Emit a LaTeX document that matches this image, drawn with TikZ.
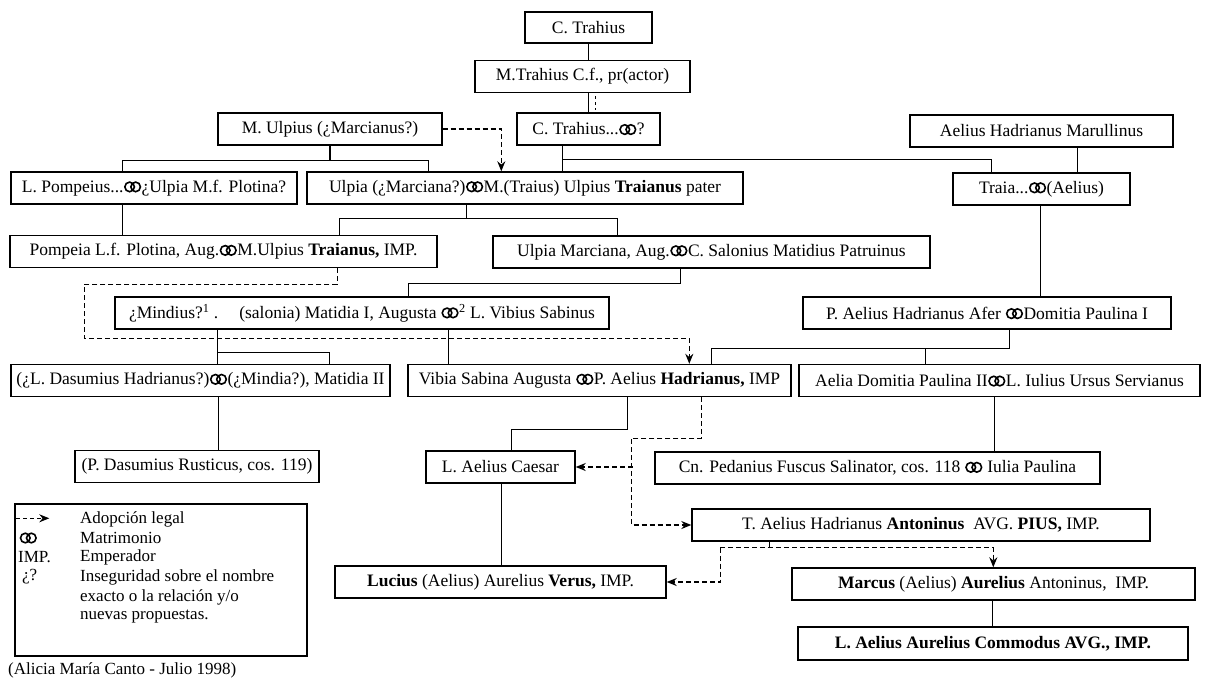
\documentclass[tikz,border=0pt]{standalone}
\usepackage{fontspec}
\setmainfont{Liberation Serif}
\usetikzlibrary{arrows.meta}
\newcommand{\mrg}{\hspace{0.5pt}\tikz[baseline=0pt,x=1pt,y=1pt]{\draw[line width=1.6pt] (5.3,5.4) circle[radius=4.8] (11.3,5.4) circle[radius=4.8];}\hspace{0.5pt}}
\begin{document}
\begin{tikzpicture}[x=1pt,y=-1pt,
  box/.style={draw, line width=1.4pt, inner sep=0pt, minimum height=32, font=\fontsize{17.5}{20}\selectfont},
  conn/.style={line width=1.2pt},
  adop/.style={line width=1.2pt, dash pattern=on 5pt off 3pt},
  tip/.style={-{Stealth[length=10pt,width=8pt]}},
  legtext/.style={anchor=west, inner sep=0pt, font=\fontsize{17}{20}\selectfont}]
\useasboundingbox (0,0) rectangle (1205,681);
\fill[white] (0,0) rectangle (1205,681);

% boxes
\node[box, minimum width=127, minimum height=31] (cT) at (588.5,27.5) {C. Trahius};
\node[box, minimum width=215] (mT) at (582.5,76.5) {M.Trahius C.f., pr(actor)};
\node[box, minimum width=224] (mU) at (330,129) {M. Ulpius (¿Marcianus?)};
\node[box, minimum width=143] (cT2) at (588.5,129) {C. Trahius...\mrg?};
\node[box, minimum width=263] (aHM) at (1041.5,131) {Aelius Hadrianus Marullinus};
\node[box, minimum width=286] (lP) at (154,188) {L. Pompeius...\mrg¿Ulpia M.f. Plotina?};
\node[box, minimum width=436] (ulp) at (525,188) {Ulpia (¿Marciana?)\mrg M.(Traius) Ulpius \textbf{Traianus} pater};
\node[box, minimum width=177] (tra) at (1041.5,189) {Traia...\mrg(Aelius)};
\node[box, minimum width=427] (pom) at (223.5,251.5) {Pompeia L.f. Plotina, Aug.\mrg M.Ulpius \textbf{Traianus,} IMP.};
\node[box, minimum width=437] (ulm) at (711.5,252) {Ulpia Marciana, Aug.\mrg C. Salonius Matidius Patruinus};
\node[box, minimum width=494] (mat) at (362,313) {¿Mindius?\textsuperscript{1} .\hspace{1.2em}(salonia) Matidia I, Augusta \mrg\textsuperscript{2} L. Vibius Sabinus};
\node[box, minimum width=368] (paf) at (987,313) {P. Aelius Hadrianus Afer \mrg Domitia Paulina I};
\node[box, minimum width=379] (das) at (200.5,380.5) {(¿L. Dasumius Hadrianus?)\mrg(¿Mindia?), Matidia II};
\node[box, minimum width=383] (vib) at (599.5,380.5) {Vibia Sabina Augusta \mrg P. Aelius \textbf{Hadrianus,} IMP};
\node[box, minimum width=401] (aed) at (999.5,380.5) {Aelia Domitia Paulina II\mrg L. Iulius Ursus Servianus};
\node[box, minimum width=244] (pda) at (197,466.5) {(P. Dasumius Rusticus, cos. 119)};
\node[box, minimum width=149] (lac) at (500.5,467) {L. Aelius Caesar};
\node[box, minimum width=445] (cnp) at (877.5,468) {Cn. Pedanius Fuscus Salinator, cos. 118 \mrg{} Iulia Paulina};
\node[box, minimum width=458] (tae) at (921,525) {T. Aelius Hadrianus \textbf{Antoninus}\ \ AVG. \textbf{PIUS,} IMP.};
\node[box, minimum width=331] (luc) at (500.5,582) {\textbf{Lucius} (Aelius) Aurelius \textbf{Verus,} IMP.};
\node[box, minimum width=403] (mar) at (993.5,584) {\textbf{Marcus} (Aelius) \textbf{Aurelius} Antoninus,\ \ IMP.};
\node[box, minimum width=390, minimum height=33] (com) at (993,643.5) {\textbf{L. Aelius Aurelius Commodus AVG., IMP.}};

% solid descent lines
\draw[conn] (cT.south) -- (mT.north -| cT.south);
\draw[conn] (mT.south -| cT2.north) -- (cT2.north);
\draw[adop, dash pattern=on 3pt off 3pt] ([xshift=7]mT.south -| cT2.north) ++(0,3) -- ++(0,14);
\draw[conn] (mU.south) -- ++(0,15) coordinate (jU);
\draw[conn] ([xshift=112]lP.north west) |- (jU) -| ([xshift=122]ulp.north west);
\draw[conn] ([xshift=46]cT2.south west) -- ([xshift=256]ulp.north west);
\draw[conn] ([xshift=46]cT2.south west) ++(0,14) -| ([xshift=39]tra.north west);
\draw[conn] ([xshift=168]aHM.south west) -- ([xshift=125]tra.north west);
\draw[conn] ([xshift=112]lP.south west) -- ([xshift=113]pom.north west);
\draw[conn] ([xshift=160]ulp.south west) -- ++(0,14) coordinate (jA);
\draw[conn] ([xshift=330]pom.north west) |- (jA) -| ([xshift=125]ulm.north west);
\draw[conn] ([xshift=188]ulm.south west) -- ++(0,15) -| ([xshift=294]mat.north west);
\draw[conn] ([xshift=88]tra.south west) -- ([xshift=238]paf.north west);
\draw[conn] ([xshift=103]mat.south west) -- ([xshift=207]das.north west);
\draw[conn] ([xshift=103]mat.south west) ++(0,23) -| ([xshift=319]das.north west);
\draw[conn] ([xshift=334]mat.south west) -- ([xshift=41]vib.north west);
\draw[conn] ([xshift=207]paf.south west) -- ++(0,19) coordinate (jP);
\draw[conn] (jP) -| ([xshift=304]vib.north west);
\draw[conn] ([xshift=127]aed.north west) -- ++(0,-16);
\draw[conn] ([xshift=208]das.south west) -- ([xshift=144]pda.north west);
\draw[conn] ([xshift=220]vib.south west) -- ++(0,32) -| ([xshift=86]lac.north west);
\draw[conn] ([xshift=196]aed.south west) -- ([xshift=340]cnp.north west);
\draw[conn] ([xshift=76]lac.south west) -- ([xshift=167]luc.north west);
\draw[conn] ([xshift=201]mar.south west) -- ([xshift=195]com.north west);
\draw[conn] ([xshift=78]tae.south west) -- ++(0,6);

% adoptions
\draw[adop,tip] (mU.east) -| ([xshift=195]ulp.north west);
\draw[adop,tip] ([xshift=328]pom.south west) -- ++(0,16) -- ++(-253,0) -- ++(0,54) -| ([xshift=282]vib.north west);
\draw[adop,tip] ([xshift=294]vib.south west) -- ++(0,41) -- ++(-70,0) |- (tae.west);
\draw[adop,tip] ([xshift=57]lac.east) -- (lac.east);
\draw[adop,tip] ([xshift=29]tae.south west) ++(0,6) -| ([xshift=202]mar.north west);
\draw[adop,tip] ([xshift=29]tae.south west) ++(0,6) |- (luc.east);

% legend
\node[draw, line width=1.4pt, minimum width=292, minimum height=152, inner sep=0pt] (leg) at (161,580) {};
\draw[adop, dash pattern=on 4pt off 3pt, tip] ([xshift=2]leg.north west) ++(0,15) -- ++(33,0);
\node[legtext] (s2) at (19,538) {\mrg};
\node[legtext] (s3) at (18,557) {IMP.};
\node[legtext] (s4) at (22,577) {¿?};
\node[legtext] (l1) at (80,519) {Adopción legal};
\node[legtext] (l2) at (80,538) {Matrimonio};
\node[legtext] (l3) at (80,557) {Emperador};
\node[legtext] (l4) at (80,577) {Inseguridad sobre el nombre};
\node[legtext] (l5) at (80,597) {exacto o la relación y/o};
\node[legtext] (l6) at (80,617) {nuevas propuestas.};
\node[legtext] (cap) at (8,670) {(Alicia María Canto - Julio 1998)};
\end{tikzpicture}
\end{document}
